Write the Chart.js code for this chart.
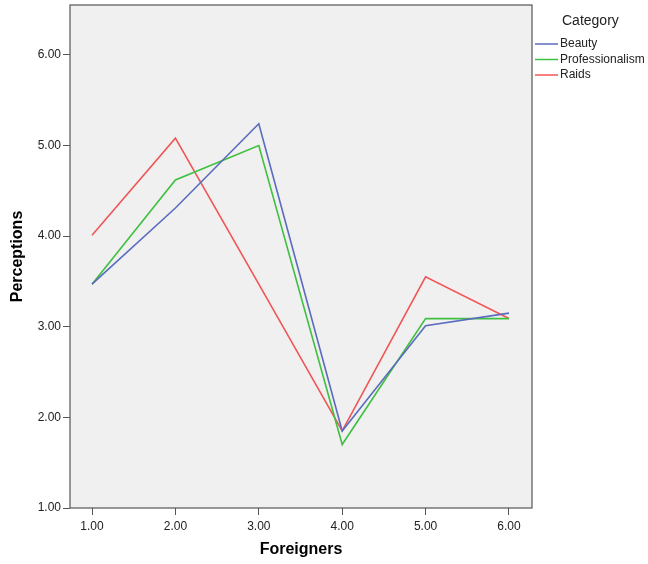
<!DOCTYPE html>
<html>
<head>
<meta charset="utf-8">
<script src="https://cdn.jsdelivr.net/npm/chart.js@4.4.1/dist/chart.umd.min.js"></script>
<style>
  html, body { margin: 0; padding: 0; background: #fff; }
  #wrap { width: 648px; height: 564px; }
</style>
</head>
<body>
<div id="wrap"><canvas id="lineChart" width="648" height="564"></canvas></div>
<script>
// ----------------------------
// Data
// ----------------------------
const foreigners = [1, 2, 3, 4, 5, 6];
const beauty = [3.47, 4.31, 5.24, 1.85, 3.01, 3.15];
const professionalism = [3.47, 4.62, 5.00, 1.70, 3.09, 3.09];
const raids = [4.01, 5.08, 3.47, 1.85, 3.55, 3.09];

const seriesNames = ['Beauty', 'Professionalism', 'Raids'];
const seriesColors = ['#5a6cbd', '#40c040', '#f05656'];
const xTicks = [1, 2, 3, 4, 5, 6];
const yTicks = [1, 2, 3, 4, 5, 6];
const legendTitle = 'Category';

const FONT = '"Liberation Sans", Arial, sans-serif';

function toPoints(values) {
    return values.map((v, i) => ({ x: foreigners[i], y: v }));
}

// grey plot background + frame
const plotFrame = {
    id: 'plotFrame',
    beforeDraw(chart) {
        const { ctx, chartArea: a } = chart;
        ctx.save();
        ctx.fillStyle = '#f0f0f0';
        ctx.fillRect(a.left, a.top, a.width, a.height);
        ctx.restore();
    },
    afterDraw(chart) {
        const { ctx, chartArea: a } = chart;
        ctx.save();
        ctx.strokeStyle = '#555';
        ctx.lineWidth = 1.2;
        ctx.strokeRect(a.left, a.top, a.width, a.height);
        ctx.restore();
    }
};

// legend on the right, SPSS style
const sideLegend = {
    id: 'sideLegend',
    afterDraw(chart) {
        const { ctx, chartArea: a } = chart;
        ctx.save();
        ctx.fillStyle = '#222';
        ctx.textBaseline = 'middle';
        ctx.font = '14px ' + FONT;
        ctx.fillText(legendTitle, a.right + 30, 21);
        ctx.font = '12px ' + FONT;
        chart.data.datasets.forEach((ds, i) => {
            const y = 44 + i * 15.5;
            ctx.strokeStyle = ds.borderColor;
            ctx.lineWidth = 1.5;
            ctx.beginPath();
            ctx.moveTo(a.right + 3, y);
            ctx.lineTo(a.right + 26, y);
            ctx.stroke();
            ctx.fillStyle = '#222';
            ctx.fillText(ds.label, a.right + 28, y);
        });
        ctx.restore();
    }
};

const ctx = document.getElementById('lineChart').getContext('2d');
new Chart(ctx, {
    type: 'line',
    data: {
        datasets: [beauty, professionalism, raids].map((vals, i) => ({
            label: seriesNames[i],
            data: toPoints(vals),
            borderColor: seriesColors[i],
            backgroundColor: seriesColors[i],
            borderWidth: 1.6,
            pointRadius: 0,
            tension: 0,
            fill: false
        }))
    },
    options: {
        responsive: false,
        animation: false,
        layout: { padding: { left: 4, top: 5, right: 116, bottom: 0 } },
        plugins: {
            legend: { display: false },
            tooltip: { enabled: false }
        },
        scales: {
            x: {
                type: 'linear',
                min: 0.736,
                max: 6.276,
                afterBuildTicks: scale => { scale.ticks = xTicks.map(v => ({ value: v })); },
                afterFit: scale => { scale.height = 56; },
                border: { display: false },
                grid: { display: true, drawOnChartArea: false, drawTicks: true, tickLength: 7, color: '#555' },
                ticks: {
                    padding: 4,
                    color: '#222',
                    font: { family: FONT, size: 12 },
                    callback: v => Number(v).toFixed(2)
                },
                title: {
                    display: true,
                    text: 'Foreigners',
                    color: '#000',
                    font: { family: FONT, size: 16, weight: 'bold' },
                    padding: { top: 4, bottom: 5 }
                }
            },
            y: {
                type: 'linear',
                min: 1,
                max: 6.55,
                afterBuildTicks: scale => { scale.ticks = yTicks.map(v => ({ value: v })); },
                afterFit: scale => { scale.width = 66; scale.paddingTop = 0; },
                border: { display: false },
                grid: { display: true, drawOnChartArea: false, drawTicks: true, tickLength: 7, color: '#555' },
                ticks: {
                    padding: 2,
                    color: '#222',
                    font: { family: FONT, size: 12 },
                    callback: v => Number(v).toFixed(2)
                },
                title: {
                    display: true,
                    text: 'Perceptions',
                    color: '#000',
                    font: { family: FONT, size: 16, weight: 'bold' },
                    padding: { top: 4, bottom: 4 }
                }
            }
        }
    },
    plugins: [plotFrame, sideLegend]
});
</script>
</body>
</html>
